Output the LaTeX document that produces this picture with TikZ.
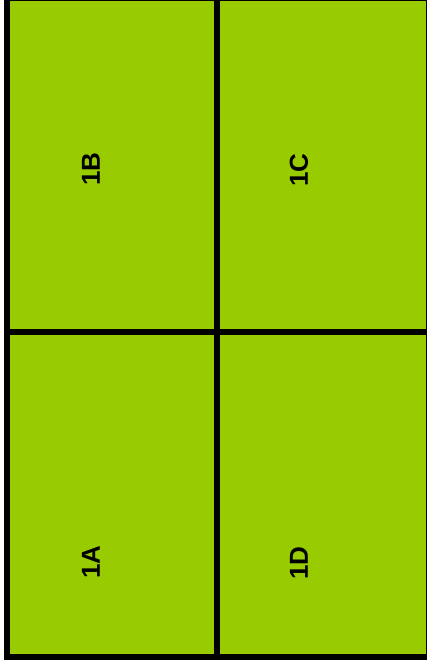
\documentclass[tikz,border=0pt]{standalone}
\usepackage{fontspec}
\setmainfont{Liberation Sans}
\usepackage{xcolor}
\usetikzlibrary{positioning}
\definecolor{panelgreen}{HTML}{99CC00}

\begin{document}
\begin{tikzpicture}[
  x=1pt, y=-1pt,
  cell/.style={draw=black, line width=6pt, fill=panelgreen, inner sep=0pt,
               minimum width=210pt},
  tag/.style={font=\bfseries\fontsize{26}{30}\selectfont, rotate=90, inner sep=0pt}
]
\useasboundingbox (0,0) rectangle (427,663);
% upper row
\node[cell, minimum height=334pt] (cellB) at (112,165) {};
\node[cell, minimum height=334pt, minimum width=212pt] (cellC) at (323,165) {};
% lower row
\node[cell, minimum height=325pt] (cellA) at (112,494.5) {};
\node[cell, minimum height=325pt, minimum width=212pt] (cellD) at (323,494.5) {};

\node[tag] (labB) at (91,169) {1B};
\node[tag] (labC) at (299,170) {1C};
\node[tag] (labA) at (91,562) {1A};
\node[tag] (labD) at (299,563) {1D};
\end{tikzpicture}
\end{document}
